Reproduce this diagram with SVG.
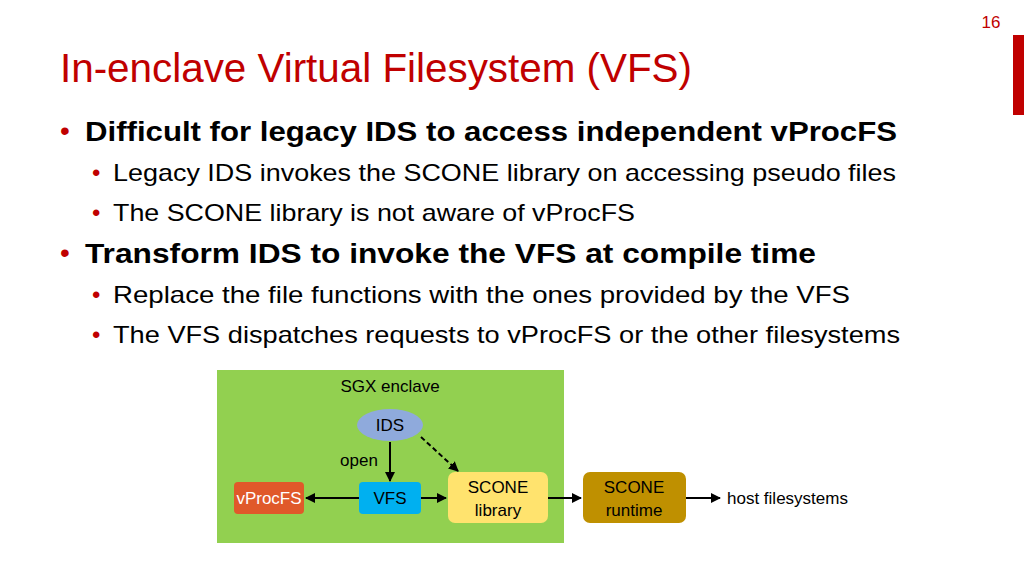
<svg xmlns="http://www.w3.org/2000/svg" width="1024" height="576" viewBox="0 0 1024 576">
<defs>
<style>
.b{font-family:"Liberation Sans",Arial,sans-serif;font-weight:bold;font-size:27px;fill:#000}
.s{font-family:"Liberation Sans",Arial,sans-serif;font-size:24px;fill:#000}
.dot{fill:#c00000;font-family:"Liberation Sans",sans-serif}
.n{font-family:"Liberation Sans",Arial,sans-serif;font-size:17px;text-anchor:middle}
.c{stroke:#000;stroke-width:2;fill:none;marker-end:url(#a)}
</style>
<marker id="a" viewBox="0 0 10 10" refX="9" refY="5" markerWidth="5" markerHeight="5" orient="auto"><path d="M0,0L10,5L0,10z" fill="#000"/></marker>
</defs>
<rect width="1024" height="576" fill="#fff"/>
<rect x="1013" y="35" width="11" height="80" fill="#c00000"/>
<text x="991" y="28" text-anchor="middle" font-family="Liberation Sans,Arial,sans-serif" font-size="17" fill="#c00000">16</text>
<text x="60" y="82" font-family="Liberation Sans,Arial,sans-serif" font-size="40" fill="#c00000" textLength="632" lengthAdjust="spacingAndGlyphs">In-enclave Virtual Filesystem (VFS)</text>
<text x="60" y="140" class="dot" font-size="28">•</text>
<text x="85" y="141" class="b" textLength="812" lengthAdjust="spacingAndGlyphs">Difficult for legacy IDS to access independent vProcFS</text>
<text x="92" y="181" class="dot" font-size="24">•</text>
<text x="113" y="181" class="s" textLength="783" lengthAdjust="spacingAndGlyphs">Legacy IDS invokes the SCONE library on accessing pseudo files</text>
<text x="92" y="221" class="dot" font-size="24">•</text>
<text x="113" y="221" class="s" textLength="522" lengthAdjust="spacingAndGlyphs">The SCONE library is not aware of vProcFS</text>
<text x="60" y="262" class="dot" font-size="28">•</text>
<text x="85" y="263" class="b" textLength="731" lengthAdjust="spacingAndGlyphs">Transform IDS to invoke the VFS at compile time</text>
<text x="92" y="303" class="dot" font-size="24">•</text>
<text x="113" y="303" class="s" textLength="737" lengthAdjust="spacingAndGlyphs">Replace the file functions with the ones provided by the VFS</text>
<text x="92" y="343" class="dot" font-size="24">•</text>
<text x="113" y="343" class="s" textLength="787" lengthAdjust="spacingAndGlyphs">The VFS dispatches requests to vProcFS or the other filesystems</text>

<g id="enclave"><rect x="217" y="370" width="347" height="173" fill="#92d050"/>
<text x="390" y="392" class="n">SGX enclave</text></g>
<g id="ids"><ellipse cx="390" cy="425" rx="33" ry="16" fill="#8faadc"/><text x="390" y="431" class="n">IDS</text></g>
<g id="vprocfs"><rect x="234" y="482" width="70" height="32" rx="4" fill="#e0592a"/><text x="269" y="504" class="n" fill="#fff" font-size="16">vProcFS</text></g>
<g id="vfs"><rect x="359" y="482" width="62" height="32" rx="4" fill="#00b0f0"/><text x="390" y="504" class="n">VFS</text></g>
<g id="sconelib"><rect x="448" y="472" width="100" height="51" rx="7" fill="#ffe36e"/><text x="498" y="493" class="n">SCONE</text><text x="498" y="516" class="n">library</text></g>
<g id="sconert"><rect x="583" y="472" width="103" height="51" rx="7" fill="#bf9000"/><text x="634" y="493" class="n">SCONE</text><text x="634" y="516" class="n">runtime</text></g>
<text x="727" y="504" class="n" style="text-anchor:start">host filesystems</text>
<text x="359" y="466" class="n">open</text>
<g id="connectors">
<path class="c" d="M390,442V481"/>
<path class="c" d="M359,498H306"/>
<path class="c" d="M421,498H446"/>
<path class="c" stroke-dasharray="5,3" d="M421,437L458,471"/>
<path class="c" d="M548,498H581"/>
<path class="c" d="M686,498H720"/>
</g>
</svg>
